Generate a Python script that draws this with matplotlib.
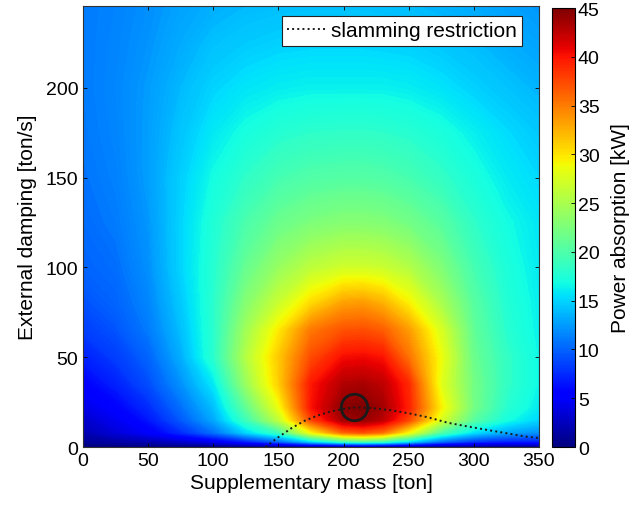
"""power absorption map over supplementary mass and external damping"""

import numpy as np
import matplotlib
matplotlib.use("Agg")
import matplotlib.pyplot as plt
from matplotlib import cm, colors

plt.rcParams['font.family'] = ['Liberation Sans', 'DejaVu Sans']

# grid of the power map
mass_ton = [0, 25, 50, 75, 100, 125, 150, 175, 200, 215, 230, 250, 275, 300, 325, 350]
damping_ton_s = [0, 3, 8, 15, 22, 35, 50, 65, 80, 100, 125, 150, 175, 200, 225, 245]

# absorbed power [kW], one row per damping value
power_kw = [
    [0, 0, 0, 0, 0, 0, 0, 0, 0, 0, 0, 0, 0, 0, 0, 0],
    [1, 1.5, 2, 3, 4.5, 7, 10, 15, 19, 20, 19, 15.5, 10.5, 8, 7, 7],
    [2, 3.5, 5, 7.5, 10.5, 15, 19, 29, 36, 37, 35.5, 29, 20, 15.5, 13, 12],
    [3, 4.5, 6.5, 9.5, 13, 19, 26, 37.5, 43.5, 44, 42.5, 37.5, 27.5, 20.5, 17, 15],
    [4, 5.5, 7.5, 10.5, 14, 21, 28.5, 40, 44.5, 45, 43.5, 39.4, 29.5, 22, 18, 16],
    [5.5, 7, 9, 12, 15.8, 24, 31, 39.8, 43, 43.3, 42.5, 39, 28, 22, 18.5, 16.5],
    [7, 8.3, 10, 13.3, 18, 25.5, 31.3, 37.3, 40.3, 40.5, 40, 35.5, 28.7, 21.5, 18.5, 16.5],
    [8.3, 9.3, 11, 14, 18, 24.5, 29.7, 35.2, 37, 37.2, 36.5, 33.5, 27.5, 21, 18, 16.3],
    [9.2, 10, 11.5, 14.5, 18, 23, 26.7, 30.5, 33.3, 33.6, 32.5, 29.5, 25, 20.5, 17.7, 16.2],
    [10, 10.5, 12, 15, 17.8, 21.3, 24, 26, 27, 27, 26.7, 25.5, 22.7, 19.5, 17.3, 16],
    [10.4, 11, 12.3, 15, 17.5, 19.8, 21.5, 22.5, 23, 23, 22.8, 22, 20.5, 18.3, 16.8, 15.8],
    [10.7, 11.3, 12.6, 14.8, 16.8, 18.3, 19.5, 20.1, 20.3, 20.3, 20.1, 19.6, 18.5, 17.2, 16, 15.2],
    [10.9, 11.5, 12.6, 14.3, 15.9, 17, 17.8, 18.2, 18.3, 18.3, 18.2, 17.9, 17.2, 16.2, 15.3, 14.5],
    [11, 11.6, 12.5, 13.8, 15, 15.7, 16.1, 16.3, 16.3, 16.3, 16.3, 16.1, 15.6, 14.9, 14.2, 13.6],
    [11, 11.5, 12.2, 13.2, 14.1, 14.6, 14.9, 15, 15, 15, 14.9, 14.8, 14.4, 13.9, 13.3, 12.8],
    [11, 11.4, 12, 12.8, 13.4, 13.8, 14, 14.1, 14.1, 14.1, 14, 13.9, 13.6, 13.2, 12.7, 12.3],
]

# slamming restriction curve
slam_mass = [140, 150, 160, 170, 180, 190, 200, 208, 220, 235, 250, 265, 280, 300, 320, 340, 350]
slam_damping = [0, 5.5, 10.5, 14.6, 17.5, 19.8, 21.2, 22, 21.8, 20.6, 18.8, 16.5, 13.5, 10.8, 8.3, 5.8, 5]

# optimum working point
opt_mass = 208
opt_damping = 22

P_MAX = 45

fig = plt.figure(figsize=(6.42, 5.06), dpi=100)
ax = fig.add_axes([0.1293, 0.1146, 0.7103, 0.8716])
cax = fig.add_axes([0.8598, 0.1146, 0.0358, 0.8676])

levels = np.linspace(0, P_MAX, 226)
ax.contourf(mass_ton, damping_ton_s, np.array(power_kw), levels=levels,
            cmap='jet', vmin=0, vmax=P_MAX, antialiased=False)

ax.plot(slam_mass, slam_damping, linestyle=':', color='#1a1a1a', linewidth=1.4,
        label='slamming restriction')
ax.plot([opt_mass], [opt_damping], marker='o', markersize=19, markerfacecolor='none',
        markeredgecolor='#1a1a1a', markeredgewidth=2.0, linestyle='none')

ax.set_xlim(0, 350)
ax.set_ylim(0, 245.5)
ax.set_xticks(range(0, 351, 50))
ax.set_yticks(range(0, 201, 50))
ax.tick_params(direction='in', length=3, width=0.6, labelsize=14, top=True, right=True)
for s in ax.spines.values():
    s.set_linewidth(0.8)
    s.set_color('#333333')

ax.set_xlabel('Supplementary mass [ton]', fontsize=15, labelpad=3)
ax.set_ylabel('External damping [ton/s]', fontsize=15, labelpad=6)

leg = ax.legend(loc='upper right', bbox_to_anchor=(0.963, 0.977), borderaxespad=0,
                fontsize=15, frameon=True, fancybox=False, framealpha=1,
                handlelength=1.9, handletextpad=0.2, borderpad=0.25)
leg.get_frame().set_edgecolor('#222222')
leg.get_frame().set_linewidth(0.8)

sm = cm.ScalarMappable(norm=colors.Normalize(0, P_MAX), cmap='jet')
cb = fig.colorbar(sm, cax=cax, ticks=range(0, 46, 5))
cb.ax.tick_params(direction='in', length=3, width=0.6, labelsize=14, pad=2)
cb.outline.set_linewidth(0.8)
cb.set_label('Power absorption [kW]', fontsize=15, labelpad=8)

fig.savefig('out.png', dpi=100)
